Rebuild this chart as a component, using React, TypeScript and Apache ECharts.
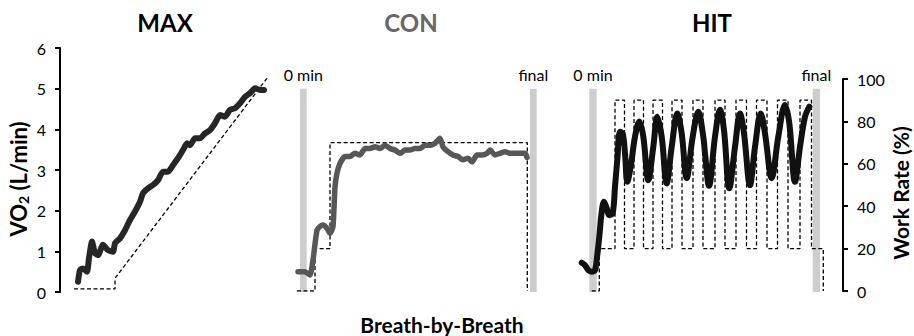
import React, { useEffect, useRef } from "react";
import * as echarts from "echarts";

// ---- MAX: ramp test ----
const maxBreath = [18, 20, 23, 27, 29, 32, 35, 38, 43, 48, 53, 55, 60, 65, 70, 75, 80, 83, 88, 93, 98, 103, 108, 113, 118, 123, 127, 130, 135, 140, 145, 150, 155, 160, 165, 170, 175, 180, 185, 190, 195, 200, 204];
const maxVO2 = [0.25, 0.54, 0.58, 0.5, 0.84, 1.24, 0.95, 0.91, 1.16, 1.03, 0.99, 1.2, 1.32, 1.52, 1.77, 1.98, 2.22, 2.43, 2.55, 2.63, 2.75, 2.96, 2.96, 3.12, 3.29, 3.49, 3.66, 3.61, 3.78, 3.78, 3.9, 3.98, 4.15, 4.35, 4.31, 4.48, 4.52, 4.64, 4.8, 4.89, 5.01, 4.97, 4.97];
const maxWorkBreath = [14, 55, 55, 208];
const maxWorkRate = [1, 1, 6, 101];

// ---- CON: continuous exercise ----
const conBreath = [8, 15, 20, 23, 27, 30, 33, 37, 40, 43, 45, 47, 50, 55, 60, 65, 70, 75, 80, 85, 90, 95, 100, 105, 110, 115, 120, 125, 130, 135, 140, 145, 150, 153, 158, 163, 168, 173, 178, 182, 187, 192, 197, 200, 205, 210, 215, 220, 225, 230, 235, 237];
const conVO2 = [0.5, 0.5, 0.42, 0.79, 1.52, 1.61, 1.65, 1.57, 1.44, 1.61, 2.59, 2.92, 3.16, 3.33, 3.33, 3.41, 3.37, 3.53, 3.53, 3.57, 3.53, 3.61, 3.53, 3.49, 3.41, 3.49, 3.49, 3.53, 3.53, 3.61, 3.61, 3.66, 3.78, 3.57, 3.45, 3.37, 3.33, 3.25, 3.29, 3.2, 3.37, 3.37, 3.41, 3.49, 3.37, 3.41, 3.45, 3.41, 3.41, 3.41, 3.41, 3.31];
const conStepBreath = [7, 25, 40, 237.3];
const conStepRate = [0, 20, 70, 0];

// ---- HIT: high-intensity intervals ----
const hitBreath = [1.7, 5, 8.3, 11.7, 15, 16.7, 19.3, 21.7, 24, 26.7, 29.3, 32.7, 35, 37.3, 40, 42.7, 45, 47.3, 50.7, 55, 59.3, 63.3, 68.3, 73.3, 77.3, 81.7, 86.7, 91.7, 97.3, 101.7, 106.7, 112.7, 118.3, 123.3, 125, 129, 135, 140, 144, 149.3, 155, 160, 164, 170, 175, 180.7, 185, 191.7, 198.3, 205, 209.3, 215, 220, 225, 229.3];
const hitVO2 = [0.72, 0.66, 0.54, 0.5, 0.54, 0.79, 1.36, 1.97, 2.22, 2.06, 1.89, 1.94, 2.59, 3.25, 3.94, 3.9, 3.41, 2.71, 3.08, 3.82, 4.19, 3.82, 2.75, 3.57, 4.31, 3.82, 2.67, 3.57, 4.39, 3.9, 2.8, 3.82, 4.43, 3.82, 3.41, 2.61, 3.82, 4.48, 3.98, 2.55, 3.57, 4.39, 3.9, 2.63, 3.57, 4.39, 3.9, 2.8, 3.82, 4.6, 4.15, 2.71, 3.57, 4.31, 4.56];
const hitStepBreath = [11.7, 19.3, 35, 44.5, 54, 63.5, 73, 82.5, 92, 102, 113, 123, 135, 145, 156, 166.5, 176.5, 187, 197.5, 208, 220, 231.5, 243.3];
const hitStepRate = [0, 20, 90, 20, 90, 20, 90, 20, 90, 20, 90, 20, 90, 20, 90, 20, 90, 20, 90, 20, 90, 20, 0];

// Shaded markers for start and end of exercise (breath range, VO2 height)
const conMarkers = [
  { name: "0 min", from: 10, to: 16.7 },
  { name: "final", from: 240, to: 246.7 },
];
const hitMarkers = [
  { name: "0 min", from: 9.3, to: 16.7 },
  { name: "final", from: 232.7, to: 240 },
];
const markerTop = 5;

const panelTitles = ["MAX", "CON", "HIT"];
const vo2Ticks = [0, 6, 1];
const workTicks = [0, 100, 20];

const FONT = "Lato, 'Open Sans', sans-serif";

const pairs = (xs: number[], ys: number[]) => xs.map((x, i) => [x, ys[i]]);
const steps = (xs: number[], levels: number[]) => {
  const pts: number[][] = [[xs[0], levels[0]]];
  for (let i = 1; i < xs.length; i++) {
    pts.push([xs[i], levels[i - 1]]);
    pts.push([xs[i], levels[i]]);
  }
  return pts;
};

const panels = [
  { left: 60, width: 210 },
  { left: 290, width: 250 },
  { left: 580, width: 263 },
];

function axisStyle(visible: boolean) {
  return {
    show: visible,
    axisLine: { show: visible, onZero: false, lineStyle: { color: "#000", width: 2 } },
    axisTick: { show: visible, length: 5, lineStyle: { color: "#000", width: 2 } },
    axisLabel: { show: visible, margin: 14, color: "#000", fontSize: 16, fontFamily: FONT },
    splitLine: { show: false },
  };
}

function buildOption() {
  const grid: any[] = [];
  const xAxis: any[] = [];
  const yAxis: any[] = [];
  panels.forEach((p, i) => {
    grid.push({ left: p.left, width: p.width, top: 48, height: 244 });
    grid.push({ left: p.left, width: p.width, top: 79, height: 212 });
    [0, 1].forEach((k) => {
      xAxis.push({
        type: "value", gridIndex: i * 2 + k, min: 0, max: p.width, show: false,
        axisLine: { show: false, onZero: false }, axisTick: { show: false }, axisLabel: { show: false }, splitLine: { show: false },
      });
    });
    yAxis.push({
      type: "value",
      gridIndex: i * 2,
      min: vo2Ticks[0],
      max: vo2Ticks[1],
      interval: vo2Ticks[2],
      position: "left",
      ...axisStyle(i === 0),
    });
    yAxis.push({
      type: "value",
      gridIndex: i * 2 + 1,
      min: workTicks[0],
      max: workTicks[1],
      interval: workTicks[2],
      position: "right",
      ...axisStyle(i === 2),
    });
  });

  const dashed = { color: "#000", width: 1.3, type: [4, 2.5] };
  const trace = (color: string, width: number) => ({ color, width, cap: "round", join: "round" });

  const markerSeries = (idx: number, markers: typeof conMarkers) => ({
    type: "line",
    xAxisIndex: idx,
    yAxisIndex: idx,
    data: [],
    z: 1,
    silent: true,
    markArea: {
      silent: true,
      itemStyle: { color: "#cdcdcd" },
      label: { show: true, position: "top", distance: 6, color: "#000", fontSize: 16, fontFamily: FONT },
      data: markers.map((m) => [
        { name: m.name, xAxis: m.from, yAxis: 0 },
        { xAxis: m.to, yAxis: markerTop },
      ]),
    },
  });

  const series: any[] = [
    markerSeries(2, conMarkers),
    markerSeries(4, hitMarkers),
    {
      type: "line", xAxisIndex: 1, yAxisIndex: 1, showSymbol: false, z: 3,
      data: pairs(maxWorkBreath, maxWorkRate), lineStyle: dashed,
    },
    {
      type: "line", xAxisIndex: 0, yAxisIndex: 0, showSymbol: false, z: 4, smooth: 0.2,
      data: pairs(maxBreath, maxVO2), lineStyle: trace("#262626", 6),
    },
    {
      type: "line", xAxisIndex: 3, yAxisIndex: 3, showSymbol: false, z: 3,
      data: steps(conStepBreath, conStepRate), lineStyle: dashed,
    },
    {
      type: "line", xAxisIndex: 2, yAxisIndex: 2, showSymbol: false, z: 4, smooth: 0.2,
      data: pairs(conBreath, conVO2), lineStyle: trace("#575757", 5.5),
    },
    {
      type: "line", xAxisIndex: 5, yAxisIndex: 5, showSymbol: false, z: 3,
      data: steps(hitStepBreath, hitStepRate), lineStyle: dashed,
    },
    {
      type: "line", xAxisIndex: 4, yAxisIndex: 4, showSymbol: false, z: 4, smooth: 0.35,
      data: pairs(hitBreath, hitVO2), lineStyle: trace("#111", 6),
    },
  ];

  const titleX = [165, 411, 712];
  const titleColors = ["#000", "#666", "#000"];
  const graphic: any[] = panelTitles.map((t, i) => ({
    type: "text",
    x: titleX[i],
    y: 22,
    style: {
      text: t, fill: titleColors[i], font: `bold 24px ${FONT}`,
      align: "center", verticalAlign: "middle",
    },
  }));
  graphic.push({
    type: "text", x: 442, y: 324,
    style: { text: "Breath-by-Breath", fill: "#000", font: `bold 21px ${FONT}`, align: "center", verticalAlign: "middle" },
  });
  graphic.push({
    type: "text", x: 18, y: 179, rotation: Math.PI / 2,
    style: {
      text: "{a|VO}{s|2}{a| (L/min)}",
      align: "center", verticalAlign: "middle",
      rich: {
        a: { fontSize: 22, fontWeight: "bold", fontFamily: FONT, fill: "#000", verticalAlign: "middle" },
        s: { fontSize: 14, fontWeight: "bold", fontFamily: FONT, fill: "#000", padding: [11, 0, 0, 0] },
      },
    },
  });
  graphic.push({
    type: "text", x: 900, y: 193, rotation: Math.PI / 2,
    style: { text: "Work Rate (%)", fill: "#000", font: `bold 21px ${FONT}`, align: "center", verticalAlign: "middle" },
  });

  return { animation: false, grid, xAxis, yAxis, series, graphic };
}

export default function App() {
  const ref = useRef<HTMLDivElement>(null);
  useEffect(() => {
    if (!ref.current) return;
    const chart = echarts.init(ref.current, null, { renderer: "svg" });
    chart.setOption(buildOption() as any);
    return () => chart.dispose();
  }, []);
  return <div ref={ref} style={{ width: 914, height: 336, position: "absolute", left: 0, top: 0, background: "#fff" }} />;
}
